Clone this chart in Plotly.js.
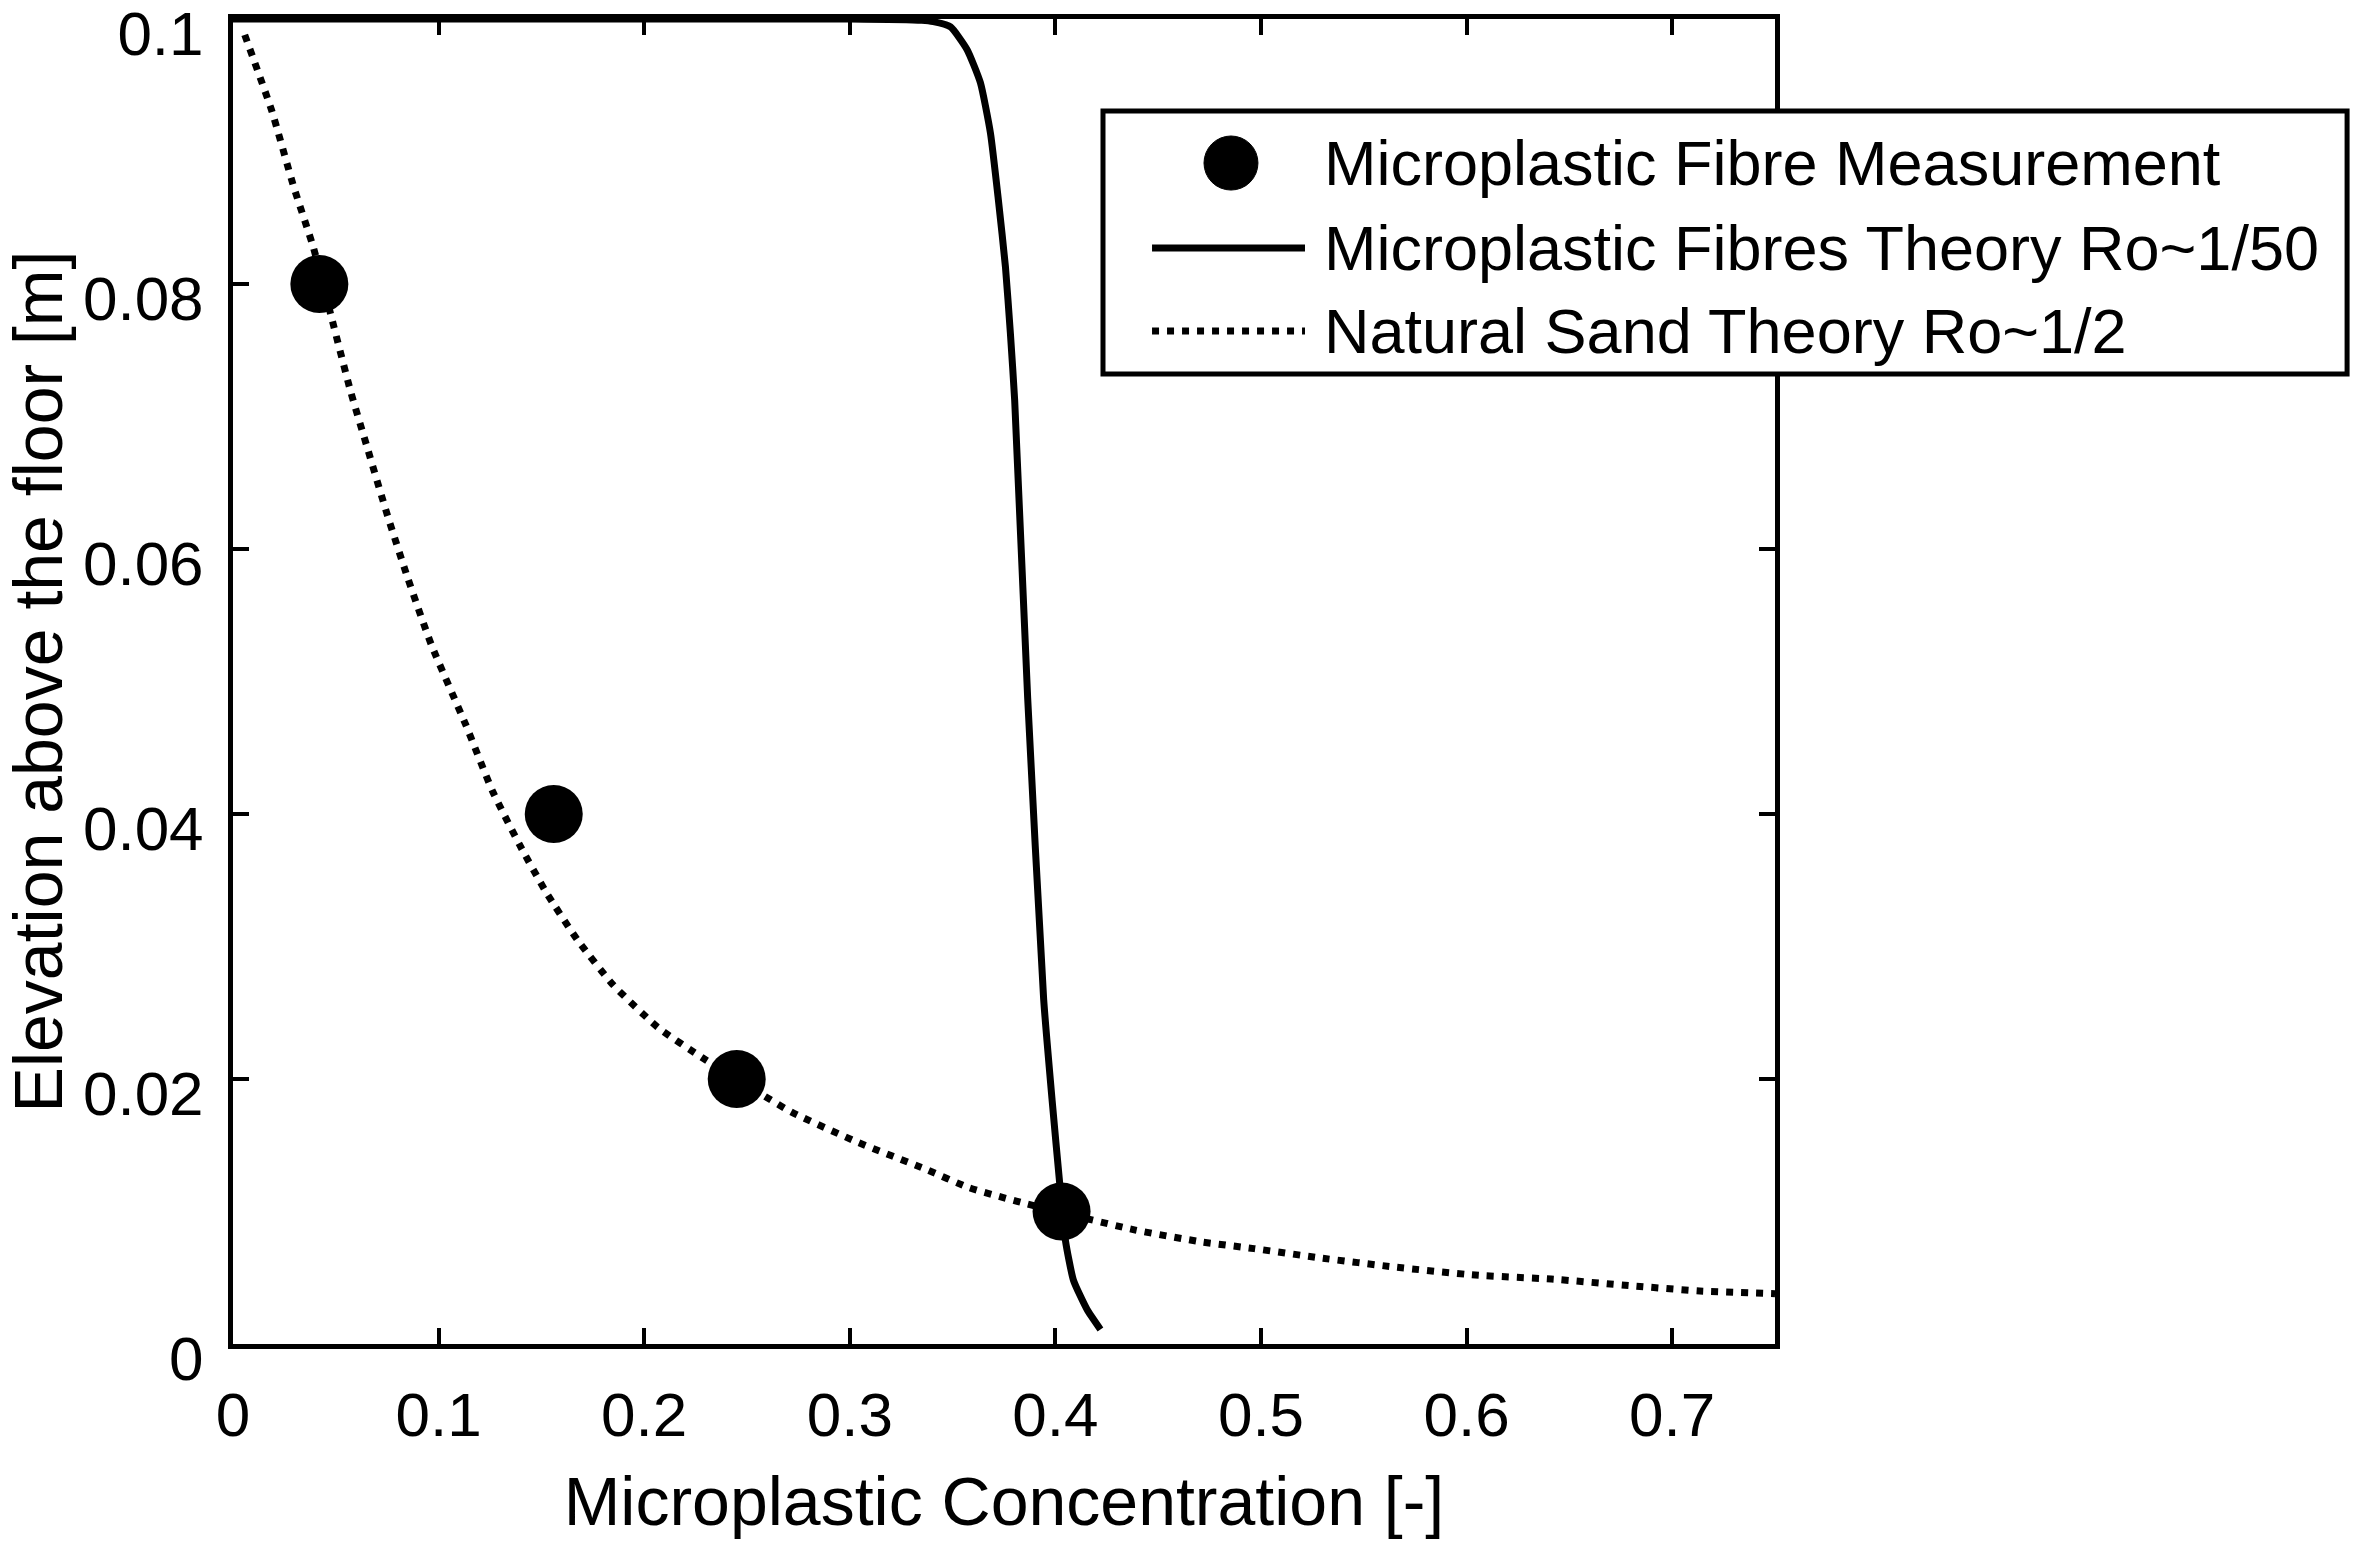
<!DOCTYPE html>
<html>
<head>
<meta charset="utf-8">
<script src="https://cdn.plot.ly/plotly-3.0.1.min.js"></script>
<style>
  html, body { margin: 0; padding: 0; background: #fff; }
  #chart { width: 2362px; height: 1541px; }
</style>
</head>
<body>
<div id="chart"></div>
<script>
// Measured points (concentration, elevation)
var measX = [0.042, 0.156, 0.245, 0.403];
var measY = [0.08, 0.04, 0.02, 0.01];

// Microplastic fibres theory, Ro~1/50
var fibreX = [0, 0.30, 0.335, 0.3406, 0.349, 0.357, 0.3635, 0.3684, 0.3723, 0.3757,
  0.3781, 0.3802, 0.3865, 0.3943, 0.3984, 0.4021, 0.4049, 0.4088, 0.4154, 0.4219];
var fibreY = [0.1, 0.1, 0.0999, 0.0998, 0.0994, 0.0977, 0.0952, 0.0914, 0.0863, 0.0813,
  0.0763, 0.0712, 0.0488, 0.026, 0.0184, 0.0121, 0.0078, 0.0048, 0.0026, 0.0011];

// Natural sand theory, Ro~1/2
var sandX = [0.0057, 0.0188, 0.0294, 0.0392, 0.0482, 0.0572, 0.0654, 0.0752, 0.085, 0.0964,
  0.1133, 0.1263, 0.1393, 0.1523, 0.1675, 0.1849, 0.2066, 0.2283, 0.245, 0.2717,
  0.3042, 0.3368, 0.3579, 0.3854, 0.4034, 0.4389, 0.4713, 0.4966, 0.5286, 0.5655,
  0.6042, 0.6412, 0.6798, 0.7134, 0.75];
var sandY = [0.0988, 0.0931, 0.0874, 0.0827, 0.0773, 0.0719, 0.0676, 0.0625, 0.0578, 0.0528,
  0.0467, 0.0417, 0.0377, 0.0341, 0.0305, 0.0271, 0.0239, 0.0216, 0.020, 0.0175,
  0.0152, 0.0132, 0.0118, 0.0106, 0.0099, 0.0086, 0.0077, 0.0072, 0.0065, 0.0058,
  0.0052, 0.0049, 0.0044, 0.0040, 0.0038];

var xTicks = [0, 0.1, 0.2, 0.3, 0.4, 0.5, 0.6, 0.7];
var yTicks = [0, 0.02, 0.04, 0.06, 0.08, 0.1];
var yTickText = ['0', '0.02', '0.04', '0.06', '0.08', '0.1'];

var legendNames = ['Microplastic Fibre Measurement',
  'Microplastic Fibres Theory Ro~1/50',
  'Natural Sand Theory Ro~1/2'];

var FONT = 'Liberation Sans, Arial, sans-serif';
var DOTS = '7px,8px';

var traces = [
  {
    type: 'scatter', mode: 'lines', name: legendNames[2],
    x: sandX, y: sandY,
    line: {color: '#000', width: 7, dash: DOTS, shape: 'spline', smoothing: 0.5}
  },
  {
    type: 'scatter', mode: 'lines', name: legendNames[1],
    x: fibreX, y: fibreY,
    line: {color: '#000', width: 7, shape: 'spline', smoothing: 0.5}
  },
  {
    type: 'scatter', mode: 'markers', name: legendNames[0],
    x: measX, y: measY,
    marker: {color: '#000', size: 58, symbol: 'circle'}
  }
];

// hand-drawn legend box (MATLAB style, large sample glyphs)
var lgRows = [0.8913, 0.8272, 0.7645];
var shapes = [
  {type: 'rect', xref: 'paper', yref: 'paper', x0: 0.5642, x1: 1.371, y0: 0.732, y1: 0.9306,
    line: {color: '#000', width: 5}, fillcolor: '#fff', layer: 'above'},
  {type: 'circle', xref: 'paper', yref: 'paper',
    x0: 0.6472 - 0.0175, x1: 0.6472 + 0.0175, y0: lgRows[0] - 0.0204, y1: lgRows[0] + 0.0204,
    line: {color: '#000', width: 1}, fillcolor: '#000', layer: 'above'},
  {type: 'line', xref: 'paper', yref: 'paper', x0: 0.596, x1: 0.6952, y0: lgRows[1], y1: lgRows[1],
    line: {color: '#000', width: 7}, layer: 'above'},
  {type: 'line', xref: 'paper', yref: 'paper', x0: 0.596, x1: 0.6952, y0: lgRows[2], y1: lgRows[2],
    line: {color: '#000', width: 7, dash: DOTS}, layer: 'above'}
];
var annotations = legendNames.map(function (t, i) {
  return {xref: 'paper', yref: 'paper', x: 0.7062, y: lgRows[i], xanchor: 'left', yanchor: 'middle',
    text: t, showarrow: false, font: {family: FONT, size: 63, color: '#000'}};
});

var axisCommon = {
  showgrid: false, zeroline: false, showline: true, linecolor: '#000', linewidth: 5,
  mirror: 'ticks', ticks: 'inside', ticklen: 16, tickwidth: 4, tickcolor: '#000',
  ticklabeloverflow: 'allow',
  tickfont: {family: FONT, size: 62, color: '#000'}
};

var layout = {
  width: 2362, height: 1541,
  margin: {l: 233, r: 587, t: 19, b: 197, pad: 0},
  paper_bgcolor: '#fff', plot_bgcolor: '#fff',
  showlegend: false,
  font: {family: FONT, color: '#000'},
  xaxis: Object.assign({}, axisCommon, {
    range: [0, 0.75], tickvals: xTicks,
    ticklabelstandoff: 13,
    title: {text: 'Microplastic Concentration [-]', font: {family: FONT, size: 68, color: '#000'}, standoff: 30}
  }),
  yaxis: Object.assign({}, axisCommon, {
    range: [0, 0.1], tickvals: yTicks, ticktext: yTickText,
    ticklabelstandoff: 12, ticklabelshift: 14,
    title: {text: 'Elevation above the floor [m]', font: {family: FONT, size: 68, color: '#000'}, standoff: 34}
  }),
  shapes: shapes,
  annotations: annotations
};

Plotly.newPlot('chart', traces, layout, {staticPlot: true});
</script>
</body>
</html>
